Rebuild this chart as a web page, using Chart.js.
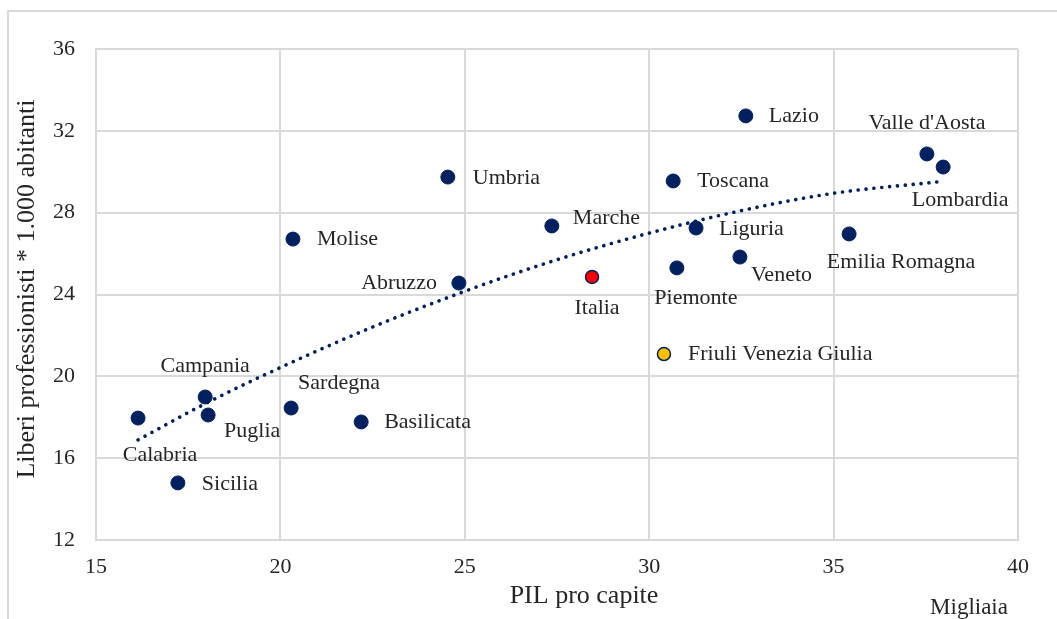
<!DOCTYPE html>
<html>
<head>
<meta charset="utf-8">
<script src="https://cdn.jsdelivr.net/npm/chart.js@4.4.1/dist/chart.umd.min.js"></script>
<style>
  html, body { margin: 0; padding: 0; background: #ffffff; }
  #wrap { width: 1057px; height: 619px; position: relative; }
</style>
</head>
<body>
<div id="wrap"><canvas id="c" width="1057" height="619"></canvas></div>
<script>
// ---- Data ----
const regions = ["Lazio", "Valle d'Aosta", "Lombardia", "Toscana", "Umbria", "Marche", "Liguria",
  "Emilia Romagna", "Molise", "Veneto", "Piemonte", "Italia", "Abruzzo", "Friuli Venezia Giulia",
  "Campania", "Puglia", "Sardegna", "Calabria", "Basilicata", "Sicilia"];
const pilProCapite = [32.62, 37.53, 37.97, 30.65, 24.54, 27.36, 31.27,
  35.42, 20.34, 32.46, 30.75, 28.45, 24.84, 30.40,
  17.96, 18.04, 20.29, 16.14, 22.19, 17.22];
const liberiProfessionisti = [32.73, 30.87, 30.23, 29.55, 29.74, 27.35, 27.25,
  26.96, 26.71, 25.83, 25.30, 24.86, 24.56, 21.09,
  18.99, 18.11, 18.45, 17.96, 17.77, 14.79];
// trendline
const trendPil = [16.14, 18, 20, 22.5, 25, 27.5, 30, 32.5, 35, 37.8];
const trendLiberi = [16.89, 18.7, 20.43, 22.41, 24.16, 25.7, 27.0, 28.1, 28.95, 29.5];
const xTickValues = [15, 20, 25, 30, 35, 40];
const yTickValues = [12, 16, 20, 24, 28, 32, 36];

// ---- Label placement (pixel offsets from each point; style only) ----
const labelPlacement = {
  "Lazio": [23, 0, "left"],
  "Valle d'Aosta": [0, -31, "center"],
  "Lombardia": [17, 33, "center"],
  "Toscana": [24, 0, "left"],
  "Umbria": [25, 1, "left"],
  "Marche": [21, -8, "left"],
  "Liguria": [23, 1, "left"],
  "Emilia Romagna": [52, 28, "center"],
  "Molise": [24, 0, "left"],
  "Veneto": [11, 18, "left"],
  "Piemonte": [19, 30, "center"],
  "Italia": [5, 31, "center"],
  "Abruzzo": [-22, 0, "right"],
  "Friuli Venezia Giulia": [24, 0, "left"],
  "Campania": [0, -31, "center"],
  "Puglia": [16, 16, "left"],
  "Sardegna": [7, -25, "left"],
  "Calabria": [22, 37, "center"],
  "Basilicata": [23, 0, "left"],
  "Sicilia": [24, 1, "left"]
};

const NAVY = '#002060';
const GRID = '#d9d9d9';
const TEXT = '#262626';
const FONT = '"Liberation Serif", "DejaVu Serif", serif';

const points = regions.map((r, i) => ({ x: pilProCapite[i], y: liberiProfessionisti[i] }));
const trend = trendPil.map((x, i) => ({ x: x, y: trendLiberi[i] }));

const fillFor = (name) => name === 'Italia' ? '#ff0000' : (name === 'Friuli Venezia Giulia' ? '#ffc000' : NAVY);

const decorPlugin = {
  id: 'decor',
  beforeDraw(chart) {
    const ctx = chart.ctx;
    ctx.save();
    ctx.strokeStyle = GRID;
    ctx.lineWidth = 2;
    ctx.strokeRect(8, 11, 1100, 700);
    ctx.restore();
  },
  afterDraw(chart) {
    const ctx = chart.ctx;
    const xs = chart.scales.x, ys = chart.scales.y;
    ctx.save();
    ctx.fillStyle = TEXT;
    // data labels
    ctx.font = '22px ' + FONT;
    ctx.textBaseline = 'middle';
    regions.forEach((r, i) => {
      const p = labelPlacement[r];
      const px = xs.getPixelForValue(pilProCapite[i]);
      const py = ys.getPixelForValue(liberiProfessionisti[i]);
      ctx.textAlign = p[2];
      ctx.fillText(r, px + p[0], py + p[1]);
    });
    // axis titles
    ctx.font = '26px ' + FONT;
    ctx.textAlign = 'center';
    ctx.textBaseline = 'alphabetic';
    ctx.fillText('PIL pro capite', 584, 603);
    ctx.font = '23px ' + FONT;
    ctx.fillText('Migliaia', 969, 614);
    ctx.save();
    ctx.translate(34, 289);
    ctx.rotate(-Math.PI / 2);
    ctx.font = '26px ' + FONT;
    ctx.fillText('Liberi professionisti * 1.000 abitanti', 0, 0);
    ctx.restore();
    ctx.restore();
  }
};

new Chart(document.getElementById('c'), {
  type: 'scatter',
  data: {
    datasets: [
      {
        type: 'line',
        label: 'Tendenza',
        data: trend,
        borderColor: NAVY,
        borderWidth: 3.6,
        borderDash: [0.1, 7.8],
        borderCapStyle: 'round',
        pointRadius: 0,
        fill: false,
        tension: 0.4,
        cubicInterpolationMode: 'monotone',
        order: 0
      },
      {
        label: 'Regioni',
        data: points,
        pointRadius: regions.map(r => (r === 'Italia' || r === 'Friuli Venezia Giulia') ? 6.5 : 7),
        pointBackgroundColor: regions.map(fillFor),
        pointBorderColor: NAVY,
        pointBorderWidth: regions.map(r => (r === 'Italia' || r === 'Friuli Venezia Giulia') ? 1.5 : 1),
        order: 1
      }
    ]
  },
  options: {
    responsive: false,
    devicePixelRatio: 1,
    animation: false,
    layout: { padding: { top: 49, right: 39, left: 0, bottom: 0 } },
    plugins: { legend: { display: false }, tooltip: { enabled: false } },
    scales: {
      x: {
        type: 'linear',
        min: 15, max: 40,
        afterBuildTicks: (s) => { s.ticks = xTickValues.map(v => ({ value: v })); },
        ticks: { font: { family: FONT, size: 22 }, color: TEXT, padding: 14, maxRotation: 0 },
        grid: { color: GRID, lineWidth: 2, drawTicks: false },
        border: { color: GRID, width: 2 },
        afterFit: (s) => { s.height = 79; }
      },
      y: {
        type: 'linear',
        min: 12, max: 36,
        afterBuildTicks: (s) => { s.ticks = yTickValues.map(v => ({ value: v })); },
        ticks: { font: { family: FONT, size: 22 }, color: TEXT, padding: 21 },
        grid: { color: GRID, lineWidth: 2, drawTicks: false },
        border: { color: GRID, width: 2 },
        afterFit: (s) => { s.width = 96; }
      }
    }
  },
  plugins: [decorPlugin]
});
</script>
</body>
</html>
